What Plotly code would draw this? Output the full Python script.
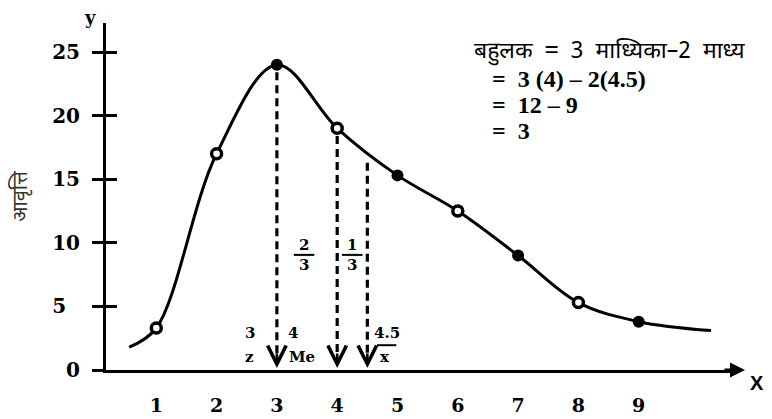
import plotly.graph_objects as go

# class values and their frequencies
x_vals = [1, 2, 3, 4, 5, 6, 7, 8, 9]
freq = [3.3, 17, 24, 19, 15.3, 12.5, 9, 5.3, 3.8]
filled = [False, False, True, False, True, False, True, False, True]

# loose ends of the freehand curve
curve_x = [0.55] + x_vals + [10.2]
curve_y = [1.8] + freq + [3.1]

# mode, median and mean with the curve height where each drop line starts
mode_val, median_val, mean_val = 3, 4, 4.5
mode_top, median_top, mean_top = 24, 19, 16.9

y_tick_vals = [0, 5, 10, 15, 20, 25]
y_tick_text = ["0", "5\u2007", "10", "15", "20", "25"]
x_tick_vals = [1, 2, 3, 4, 5, 6, 7, 8, 9]

W, H = 772, 419
M = dict(l=106, r=37, t=23, b=49)
X_RANGE = [0.166, 10.597]
Y_RANGE = [0, 27.28]
PW = W - M["l"] - M["r"]
PH = H - M["t"] - M["b"]

SERIF = "DejaVu Serif"
DEVA = "Noto Sans Devanagari, Noto Serif Devanagari, Lohit Devanagari, FreeSans, sans-serif"
NB = "\u00a0"


def px(xp, yp):
    """Page pixel position -> paper fractions."""
    return (xp - M["l"]) / PW, 1 - (yp - M["t"]) / PH


fig = go.Figure()

# smooth frequency curve
fig.add_trace(go.Scatter(
    x=curve_x, y=curve_y, mode="lines",
    line=dict(color="black", width=3, shape="spline", smoothing=1.0),
    hoverinfo="skip", showlegend=False,
))

# plotted points: solid and hollow dots
fx = [x for x, f in zip(x_vals, filled) if f]
fy = [y for y, f in zip(freq, filled) if f]
ox = [x for x, f in zip(x_vals, filled) if not f]
oy = [y for y, f in zip(freq, filled) if not f]
fig.add_trace(go.Scatter(x=fx, y=fy, mode="markers",
                         marker=dict(color="black", size=12, line=dict(width=0)),
                         showlegend=False))
fig.add_trace(go.Scatter(x=ox, y=oy, mode="markers",
                         marker=dict(color="white", size=10, line=dict(color="black", width=3.5)),
                         showlegend=False))

# dashed drop lines for mode, median and mean
for xv, top in [(mode_val, mode_top), (median_val, median_top), (mean_val, mean_top)]:
    fig.add_trace(go.Scatter(
        x=[xv, xv], y=[top - 0.6, 1.2], mode="lines",
        line=dict(color="black", width=3.2, dash="8px,5px"),
        hoverinfo="skip", showlegend=False,
    ))
    fig.add_annotation(x=xv, y=0.15, ax=0, ay=-16, xref="x", yref="y",
                       showarrow=True, arrowhead=5, arrowsize=1.4, arrowwidth=2.6,
                       arrowcolor="black", text="")

bold = dict(family=SERIF, size=15, color="black", weight="bold")

# labels at the feet of the drop lines
fig.add_annotation(x=mode_val, y=2.9, text="3", showarrow=False, xshift=-27, font=bold)
fig.add_annotation(x=mode_val, y=1.05, text="z", showarrow=False, xshift=-27, font=bold)
fig.add_annotation(x=median_val, y=2.9, text="4", showarrow=False, xshift=-44, font=bold)
fig.add_annotation(x=median_val, y=1.05, text="Me", showarrow=False, xshift=-35, font=bold)
fig.add_annotation(x=mean_val, y=2.9, text="4.5", showarrow=False, xshift=20, font=bold)
fig.add_annotation(x=mean_val, y=1.0, text="x", showarrow=False, xshift=18, font=bold)

# fractions splitting the gap between mode and mean
frac_a = (mode_val + median_val) / 2 - 0.05
frac_b = (median_val + mean_val) / 2
for xc, num in [(frac_a, "2"), (frac_b, "1")]:
    fig.add_annotation(x=xc, y=9.85, text=num, showarrow=False, font=bold)
    fig.add_annotation(x=xc, y=8.25, text="3", showarrow=False, font=bold)

shapes = []
for xc in [frac_a, frac_b]:
    shapes.append(dict(type="line", xref="x", yref="y", x0=xc - 0.17, x1=xc + 0.17,
                       y0=9.05, y1=9.05, line=dict(color="black", width=2)))
# bar over the mean symbol
shapes.append(dict(type="line", xref="x", yref="y", x0=mean_val + 0.16, x1=mean_val + 0.48,
                   y0=1.95, y1=1.95, line=dict(color="black", width=2)))

# arrow tip of the x axis
ax_x, ax_y = px(745, 370)
fig.add_annotation(x=ax_x, y=ax_y, xref="paper", yref="paper", ax=-22, ay=0,
                   showarrow=True, arrowhead=2, arrowsize=1, arrowwidth=3,
                   arrowcolor="black", text="")

# axis letters
lx, ly = px(757, 383)
fig.add_annotation(x=lx, y=ly, xref="paper", yref="paper", text="X", showarrow=False,
                   xanchor="center", yanchor="middle",
                   font=dict(family="Liberation Sans", size=20, color="black", weight="bold"))
lx, ly = px(90, 18)
fig.add_annotation(x=lx, y=ly, xref="paper", yref="paper", text="y", showarrow=False,
                   xanchor="center", yanchor="middle",
                   font=dict(family=SERIF, size=18, color="black", weight="bold"))

# worked formula
eq_font = dict(family="Liberation Serif", size=24, color="black", weight="bold")
head = ("बहुलक" + NB * 2 + "<span style='font-size:26px'>=</span>" + NB * 2 + "3" + NB * 2
        + "माध्यिका–2" + NB * 2 + "माध्य")
lx, ly = px(472, 52)
fig.add_annotation(x=lx, y=ly, xref="paper", yref="paper", text=head,
                   showarrow=False, xanchor="left", yanchor="middle",
                   font=dict(family=DEVA, size=23, color="black"))
for i, line in enumerate(["=" + NB * 2 + "3 (4) – 2(4.5)", "=" + NB * 2 + "12 – 9", "=" + NB * 2 + "3"]):
    lx, ly = px(490, 79 + 26 * i)
    fig.add_annotation(x=lx, y=ly, xref="paper", yref="paper", text=line,
                       showarrow=False, xanchor="left", yanchor="middle", font=eq_font)

fig.update_layout(
    width=W, height=H, margin=M,
    paper_bgcolor="white", plot_bgcolor="white",
    shapes=shapes,
    xaxis=dict(range=X_RANGE, showgrid=False, zeroline=False, automargin=False,
               showline=True, linecolor="black", linewidth=3,
               tickvals=x_tick_vals, ticks="", ticklabelstandoff=16,
               tickfont=dict(family=SERIF, size=19, color="black", weight="bold")),
    yaxis=dict(range=Y_RANGE, showgrid=False, zeroline=False, automargin=False,
               showline=True, linecolor="black", linewidth=3,
               tickvals=y_tick_vals, ticktext=y_tick_text,
               ticks="outside", ticklen=11, tickwidth=2.5, tickcolor="black",
               ticklabelstandoff=8,
               tickfont=dict(family=SERIF, size=20, color="black", weight="bold"),
               title=dict(text="आवृत्ति", standoff=20,
                          font=dict(family=DEVA, size=20, color="#333333"))),
    yaxis2=dict(range=Y_RANGE, overlaying="y", showgrid=False, zeroline=False,
                automargin=False,
                showline=False, tickvals=y_tick_vals[1:], showticklabels=False,
                ticks="inside", ticklen=11, tickwidth=2.5, tickcolor="black"),
)
# hidden trace so the inner tick set is drawn
fig.add_trace(go.Scatter(x=[None], y=[None], yaxis="y2", showlegend=False))

fig.write_html("out.html")
